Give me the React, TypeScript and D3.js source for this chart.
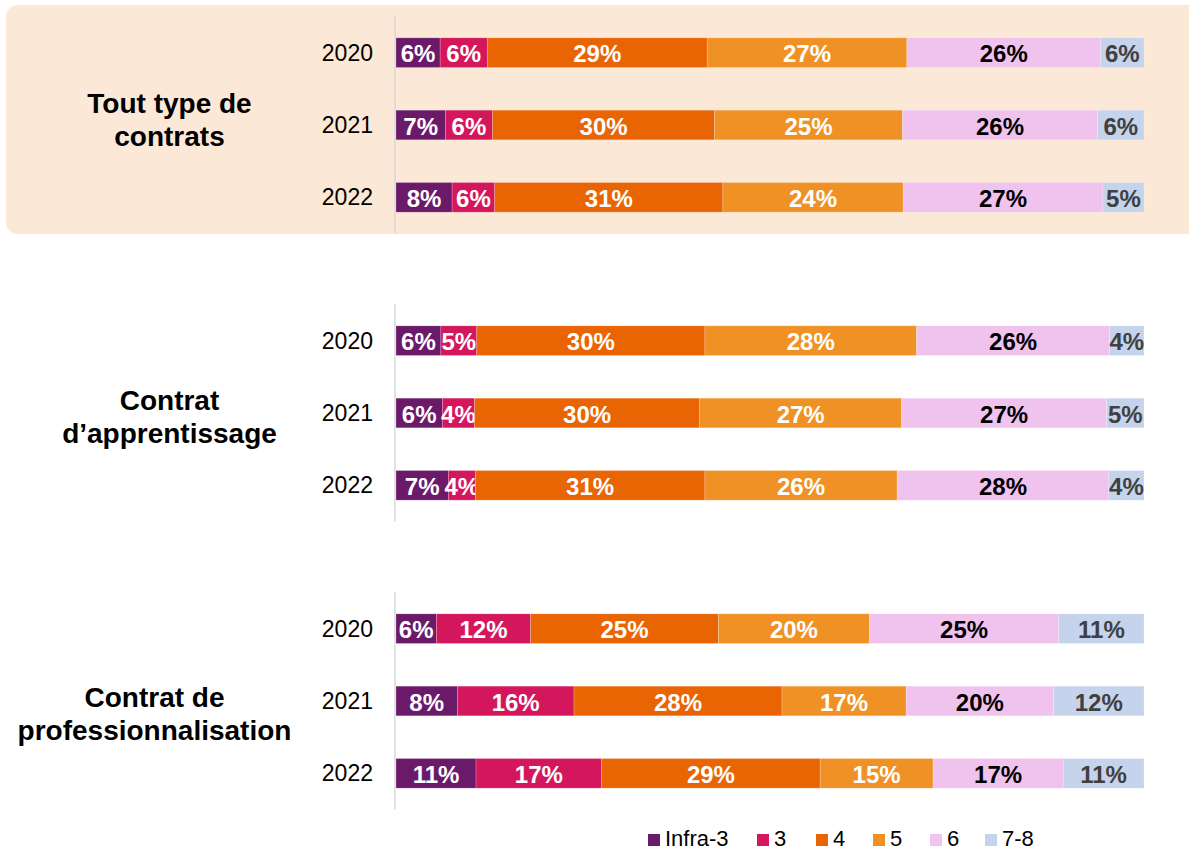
import React from "react";
import * as d3 from "d3";

const groups = ["Tout type de contrats", "Contrat d’apprentissage", "Contrat de professionnalisation"];
const groupLines = [["Tout type de", "contrats"], ["Contrat", "d’apprentissage"], ["Contrat de", "professionnalisation"]];
const years = ["2020", "2021", "2022"];
const levels = ["Infra-3", "3", "4", "5", "6", "7-8"];

// segment widths (share) and displayed labels
const toutValues = [
  [5.9, 6.3, 29.4, 26.7, 25.9, 5.8],
  [6.6, 6.3, 29.7, 25.1, 26.1, 6.2],
  [7.5, 5.7, 30.5, 24.1, 26.7, 5.5],
];
const toutLabels = [
  [6, 6, 29, 27, 26, 6],
  [7, 6, 30, 25, 26, 6],
  [8, 6, 31, 24, 27, 5],
];
const apprValues = [
  [6.0, 4.8, 30.5, 28.3, 25.8, 4.6],
  [6.2, 4.3, 30.1, 27.0, 27.4, 5.0],
  [7.0, 3.6, 30.7, 25.7, 28.3, 4.7],
];
const apprLabels = [
  [6, 5, 30, 28, 26, 4],
  [6, 4, 30, 27, 27, 5],
  [7, 4, 31, 26, 28, 4],
];
const proValues = [
  [5.4, 12.6, 25.1, 20.2, 25.3, 11.4],
  [8.2, 15.6, 27.8, 16.6, 19.7, 12.1],
  [10.7, 16.8, 29.2, 15.1, 17.4, 10.8],
];
const proLabels = [
  [6, 12, 25, 20, 25, 11],
  [8, 16, 28, 17, 20, 12],
  [11, 17, 29, 15, 17, 11],
];

const allValues = [toutValues, apprValues, proValues];
const allLabels = [toutLabels, apprLabels, proLabels];

const colors = ["#6B1A6A", "#D4175C", "#E96504", "#F09126", "#F0C2EE", "#C5D3EC"];
const textColors = ["#FFFFFF", "#FFFFFF", "#FFFFFF", "#FFFFFF", "#000000", "#404040"];

const W = 1189;
const H = 851;
const FONT = "'Liberation Sans', Arial, sans-serif";

export default function App() {
  const x = d3.scaleLinear().domain([0, 100]).range([396, 1144]);
  const groupY = d3.scalePoint<string>().domain(groups).range([125, 701]);
  const labelY = d3.scalePoint<string>().domain(groups).range([119.5, 713.5]);
  const groupSpan = 217;
  const yearBand = d3
    .scaleBand<string>()
    .domain(years)
    .range([-groupSpan / 2, groupSpan / 2])
    .paddingInner(0.59)
    .paddingOuter(0.295);

  const legendX = d3.scaleOrdinal<string, number>().domain(levels).range([648, 757, 816, 873, 930, 985]);

  // approximate width of bold 28px group label text; labels are centred at 169
  // but kept from running past x = 290 (next to year labels)
  const labelCenter = (lines: string[]) => {
    const maxW = d3.max(lines, (l) => l.length * 13.55) || 0;
    return Math.min(169.5, 290 - maxW / 2);
  };

  return (
    <svg
      width={W}
      height={H}
      style={{ position: "absolute", left: 0, top: 0, fontFamily: FONT }}
    >
      <rect x={6} y={5} width={1200} height={229} rx={12} fill="#FBE8D6" />
      {groups.map((g, gi) => {
        const cy = groupY(g)!;
        const ly = labelY(g)!;
        const lx = labelCenter(groupLines[gi]);
        return (
          <g key={g}>
            <line x1={395} x2={395} y1={cy - groupSpan / 2 - 1} y2={cy + groupSpan / 2} stroke="#D9D9D9" strokeWidth={1.5} />
            {groupLines[gi].map((line, li) => (
              <text
                key={li}
                x={lx}
                y={ly + (li - 0.5) * 33}
                textAnchor="middle"
                dominantBaseline="central"
                fontSize={28}
                fontWeight="bold"
                fill="#000"
              >
                {line}
              </text>
            ))}
            {years.map((yr, yi) => {
              const vals = allValues[gi][yi];
              const labs = allLabels[gi][yi];
              const total = d3.sum(vals);
              const norm = vals.map((v) => (v / total) * 100);
              const stack = d3.cumsum(norm);
              const by = cy + yearBand(yr)!;
              const bh = yearBand.bandwidth();
              return (
                <g key={yr}>
                  <text
                    x={373}
                    y={by + bh / 2}
                    textAnchor="end"
                    dominantBaseline="central"
                    fontSize={23}
                    fill="#000"
                  >
                    {yr}
                  </text>
                  {norm.map((v, si) => {
                    const x0 = x(stack[si] - v);
                    const x1 = x(stack[si]);
                    return (
                      <g key={si}>
                        <rect x={x0} y={by} width={x1 - x0} height={bh} fill={colors[si]} stroke="#ffffff" strokeOpacity={0.35} strokeWidth={0.6} />
                        <text
                          x={(x0 + x1) / 2}
                          y={by + bh / 2 + 1}
                          textAnchor="middle"
                          dominantBaseline="central"
                          fontSize={24}
                          fontWeight="bold"
                          fill={textColors[si]}
                        >
                          {labs[si]}%
                        </text>
                      </g>
                    );
                  })}
                </g>
              );
            })}
          </g>
        );
      })}
      {levels.map((lv, li) => (
        <g key={lv}>
          <rect x={legendX(lv)} y={834} width={12} height={12} fill={colors[li]} />
          <text x={legendX(lv) + 17} y={845.5} fontSize={22} fill="#000">
            {lv}
          </text>
        </g>
      ))}
    </svg>
  );
}
